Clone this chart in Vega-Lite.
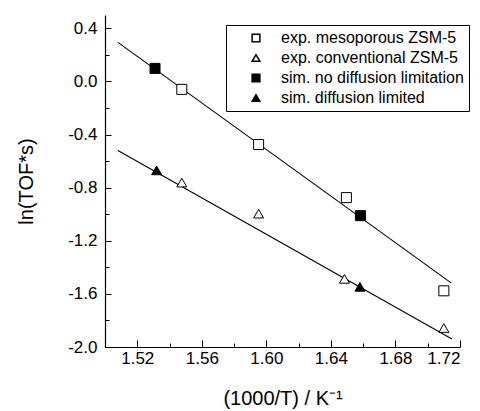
{
  "$schema": "https://vega.github.io/schema/vega-lite/v6.json",
  "width": 355,
  "height": 332,
  "autosize": "none",
  "padding": {"left": 105, "top": 15, "right": 20, "bottom": 64},
  "background": "white",
  "config": {
    "view": {"stroke": null},
    "font": "Liberation Sans",
    "axis": {"grid": false, "domainColor": "black", "domainWidth": 1.2, "tickColor": "black", "tickWidth": 1, "labelColor": "black", "titleColor": "black", "labelFont": "Liberation Sans", "titleFont": "Liberation Sans", "labelFontSize": 17, "titleFontSize": 20, "titleFontWeight": "normal"},
    "legend": {"labelFont": "Liberation Sans"}
  },
  "datasets": {
    "lines": [
      {"line": "upper", "x": 1.508, "y": 0.294},
      {"line": "upper", "x": 1.7145, "y": -1.517},
      {"line": "lower", "x": 1.508, "y": -0.52},
      {"line": "lower", "x": 1.715, "y": -1.94}
    ],
    "points": [
      {"series": "exp. mesoporous ZSM-5", "x": 1.5476, "y": -0.06},
      {"series": "exp. mesoporous ZSM-5", "x": 1.5952, "y": -0.475},
      {"series": "exp. mesoporous ZSM-5", "x": 1.6496, "y": -0.875},
      {"series": "exp. mesoporous ZSM-5", "x": 1.710, "y": -1.577},
      {"series": "exp. conventional ZSM-5", "x": 1.5476, "y": -0.762},
      {"series": "exp. conventional ZSM-5", "x": 1.5952, "y": -0.996},
      {"series": "exp. conventional ZSM-5", "x": 1.6484, "y": -1.487},
      {"series": "exp. conventional ZSM-5", "x": 1.710, "y": -1.857},
      {"series": "sim. no diffusion limitation", "x": 1.531, "y": 0.098},
      {"series": "sim. no diffusion limitation", "x": 1.6583, "y": -1.011},
      {"series": "sim. diffusion limited", "x": 1.532, "y": -0.67},
      {"series": "sim. diffusion limited", "x": 1.658, "y": -1.547}
    ]
  },
  "layer": [
    {
      "data": {"name": "lines"},
      "mark": {"type": "line", "color": "black", "strokeWidth": 1.1},
      "encoding": {
        "x": {"field": "x", "type": "quantitative", "scale": {"domain": [1.50, 1.72], "nice": false, "zero": false},
              "axis": {"orient": "bottom", "values": [1.54, 1.58, 1.62, 1.66, 1.70], "labels": false, "title": null, "tickSize": -4, "domain": false}},
        "y": {"field": "y", "type": "quantitative", "scale": {"domain": [-2.0, 0.5], "nice": false, "zero": false},
              "axis": {"orient": "left", "values": [-1.8, -1.4, -1.0, -0.6, -0.2, 0.2], "labels": false, "title": null, "tickSize": -4, "domain": false}},
        "detail": {"field": "line"}
      }
    },
    {
      "data": {"name": "points"},
      "mark": {"type": "point", "stroke": "black", "strokeWidth": 1, "opacity": 1, "size": 100},
      "encoding": {
        "x": {"field": "x", "type": "quantitative", "scale": {"domain": [1.50, 1.72], "nice": false, "zero": false},
              "axis": {"orient": "bottom", "values": [1.52, 1.56, 1.60, 1.64, 1.68, 1.72], "format": ".2f", "tickSize": -7, "labelPadding": 10, "title": "(1000/T) / K⁻¹", "titlePadding": 22}},
        "y": {"field": "y", "type": "quantitative", "scale": {"domain": [-2.0, 0.5], "nice": false, "zero": false},
              "axis": {"orient": "left", "values": [-2.0, -1.6, -1.2, -0.8, -0.4, 0.0, 0.4], "labelExpr": "replace(format(datum.value, '.1f'), '−', '-')", "tickSize": -6, "labelPadding": 14, "title": "ln(TOF*s)", "titlePadding": 31}},
        "shape": {"field": "series", "type": "nominal",
                  "scale": {"domain": ["exp. mesoporous ZSM-5", "exp. conventional ZSM-5", "sim. no diffusion limitation", "sim. diffusion limited"], "range": ["square", "triangle-up", "square", "triangle-up"]},
                  "legend": {"title": null, "orient": "none", "legendX": 121, "legendY": 10, "strokeColor": "black", "fillColor": "white", "padding": 5, "labelFontSize": 16, "labelColor": "black", "labelLimit": 400, "symbolSize": 60, "rowPadding": 4, "labelOffset": 17, "symbolOffset": 17,
                             "encode": {"symbols": {"update": {"stroke": {"value": "black"}, "strokeWidth": {"value": 1}}}}}},
        "fill": {"field": "series", "type": "nominal",
                 "scale": {"domain": ["exp. mesoporous ZSM-5", "exp. conventional ZSM-5", "sim. no diffusion limitation", "sim. diffusion limited"], "range": ["white", "white", "black", "black"]},
                 "legend": {"title": null, "orient": "none", "legendX": 121, "legendY": 10, "strokeColor": "black", "fillColor": "white", "padding": 5, "labelFontSize": 16, "labelColor": "black", "labelLimit": 400, "symbolSize": 60, "rowPadding": 4, "labelOffset": 17, "symbolOffset": 17,
                            "encode": {"symbols": {"update": {"stroke": {"value": "black"}, "strokeWidth": {"value": 1}}}}}}
      }
    }
  ],
  "resolve": {"axis": {"x": "independent", "y": "independent"}}
}
